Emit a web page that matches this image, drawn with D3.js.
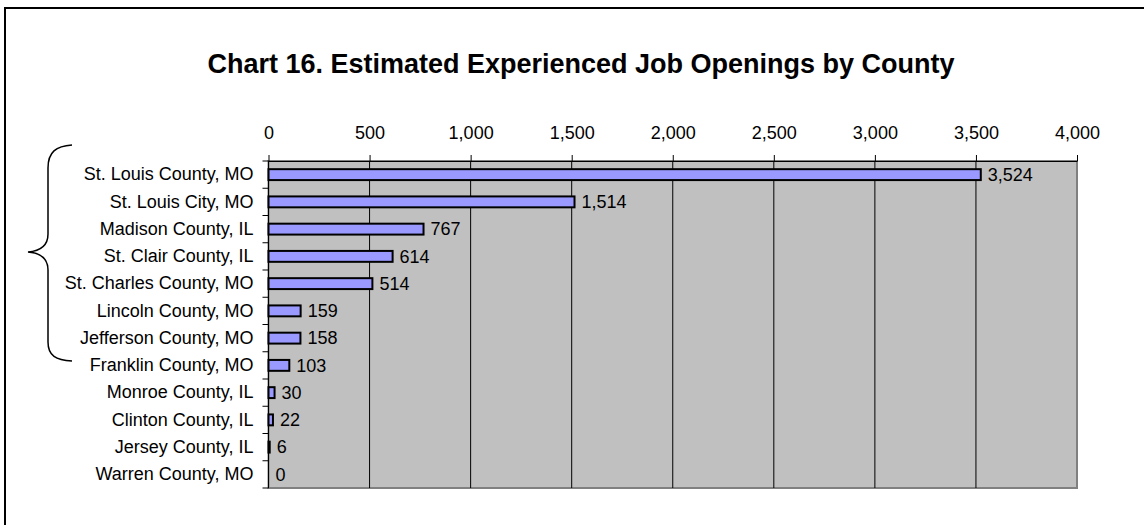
<!DOCTYPE html>
<html>
<head>
<meta charset="utf-8">
<script src="https://cdn.jsdelivr.net/npm/d3@7"></script>
<style>
  body { margin: 0; background: #fff; }
  svg { display: block; font-family: Arial, "Liberation Sans", sans-serif; }
</style>
</head>
<body>
<div id="chart"></div>
<script>
const counties = [
  "St. Louis County, MO", "St. Louis City, MO", "Madison County, IL",
  "St. Clair County, IL", "St. Charles County, MO", "Lincoln County, MO",
  "Jefferson County, MO", "Franklin County, MO", "Monroe County, IL",
  "Clinton County, IL", "Jersey County, IL", "Warren County, MO"
];
const openings = [3524, 1514, 767, 614, 514, 159, 158, 103, 30, 22, 6, 0];
const xTicks = [0, 500, 1000, 1500, 2000, 2500, 3000, 3500, 4000];
const title = "Chart 16. Estimated Experienced Job Openings by County";

const data = counties.map((c, i) => ({ county: c, value: openings[i] }));

const width = 1144;
const height = 525;
const plot = { left: 268.5, right: 1077, top: 161, bottom: 488 };

const svg = d3
  .select("#chart")
  .append("svg")
  .attr("width", width)
  .attr("height", height);

// outer frame (runs off the page on the right and bottom)
svg
  .append("rect")
  .attr("x", 5)
  .attr("y", 8)
  .attr("width", width + 20)
  .attr("height", height + 20)
  .attr("fill", "none")
  .attr("stroke", "#000")
  .attr("stroke-width", 2);

svg
  .append("text")
  .attr("x", 581)
  .attr("y", 73)
  .attr("text-anchor", "middle")
  .attr("font-size", 27)
  .attr("font-weight", "bold")
  .text(title);

const x = d3
  .scaleLinear()
  .domain([0, 4000])
  .range([plot.left, plot.right]);

const y = d3
  .scaleBand()
  .domain(counties)
  .range([plot.top, plot.bottom])
  .paddingInner(0.6)
  .paddingOuter(0.3);

// plot area
svg
  .append("rect")
  .attr("x", plot.left)
  .attr("y", plot.top)
  .attr("width", plot.right - plot.left)
  .attr("height", plot.bottom - plot.top)
  .attr("fill", "#c0c0c0")
  .attr("stroke", "#808080")
  .attr("stroke-width", 2);

// vertical gridlines
svg
  .append("g")
  .selectAll("line")
  .data(xTicks.slice(1, -1))
  .join("line")
  .attr("x1", (d) => x(d))
  .attr("x2", (d) => x(d))
  .attr("y1", plot.top)
  .attr("y2", plot.bottom)
  .attr("stroke", "#000")
  .attr("stroke-width", 1);

// top axis
const xAxis = svg
  .append("g")
  .attr("transform", `translate(0,${plot.top})`)
  .call(
    d3
      .axisTop(x)
      .tickValues(xTicks)
      .tickFormat(d3.format(","))
      .tickSizeInner(6)
      .tickSizeOuter(0)
      .tickPadding(16)
  );
xAxis.select(".domain").attr("stroke", "#000");
xAxis.selectAll("text").attr("font-size", 18).attr("fill", "#000").attr("font-family", null);

// left axis: labels at band centres, ticks at band edges
const yAxis = svg
  .append("g")
  .attr("transform", `translate(${plot.left},0)`)
  .call(d3.axisLeft(y).tickSize(0).tickPadding(15));
yAxis.select(".domain").remove();
yAxis.selectAll("text").attr("font-size", 18).attr("fill", "#000").attr("font-family", null);

svg
  .append("line")
  .attr("x1", plot.left)
  .attr("x2", plot.left)
  .attr("y1", plot.top)
  .attr("y2", plot.bottom)
  .attr("stroke", "#000");

svg
  .append("g")
  .selectAll("line")
  .data(d3.range(counties.length + 1))
  .join("line")
  .attr("x1", plot.left - 6)
  .attr("x2", plot.left)
  .attr("y1", (i) => plot.top + i * y.step())
  .attr("y2", (i) => plot.top + i * y.step())
  .attr("stroke", "#000");

// bars
svg
  .append("g")
  .selectAll("rect")
  .data(data.filter((d) => d.value > 0))
  .join("rect")
  .attr("x", x(0))
  .attr("y", (d) => y(d.county))
  .attr("width", (d) => x(d.value) - x(0))
  .attr("height", y.bandwidth())
  .attr("fill", "#9999ff")
  .attr("stroke", "#000")
  .attr("stroke-width", 2);

// value labels
svg
  .append("g")
  .selectAll("text")
  .data(data)
  .join("text")
  .attr("x", (d) => x(d.value) + 7)
  .attr("y", (d) => y(d.county) + y.bandwidth() / 2)
  .attr("dy", "0.35em")
  .attr("font-size", 18)
  .text((d) => d3.format(",")(d.value));

// brace grouping the first seven counties
svg
  .append("path")
  .attr(
    "d",
    "M72,145 C56,146 48,152 48,168 L48,234 C48,246 40,251 28,252 " +
      "C40,253 48,258 48,270 L48,342 C48,356 56,360 72,361"
  )
  .attr("fill", "none")
  .attr("stroke", "#000")
  .attr("stroke-width", 1.5);
</script>
</body>
</html>
